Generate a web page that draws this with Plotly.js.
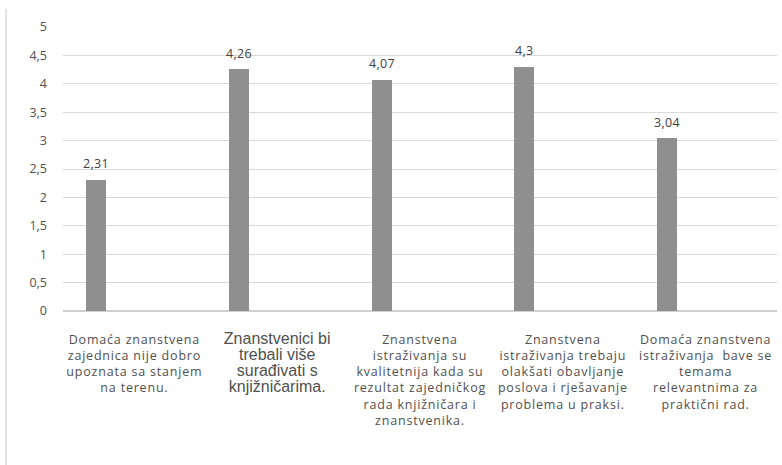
<!DOCTYPE html>
<html>
<head>
<meta charset="utf-8">
<script src="https://cdn.plot.ly/plotly-3.0.1.min.js"></script>
<style>
  html, body { margin: 0; padding: 0; background: #fff; }
  #chart { width: 782px; height: 465px; }
</style>
</head>
<body>
<div id="chart"></div>
<script>
const categories = [
  'Domaća znanstvena<br>zajednica nije dobro<br>upoznata sa stanjem<br>na terenu.',
  'Znanstvenici bi<br>trebali više<br>surađivati s<br>knjižničarima.',
  'Znanstvena<br>istraživanja su<br>kvalitetnija kada su<br>rezultat zajedničkog<br>rada knjižničara i<br>znanstvenika.',
  'Znanstvena<br>istraživanja trebaju<br>olakšati obavljanje<br>poslova i rješavanje<br>problema u praksi.',
  'Domaća znanstvena<br>istraživanja&nbsp; bave se<br>temama<br>relevantnima za<br>praktični rad.'
];
const values = [2.31, 4.26, 4.07, 4.3, 3.04];
const yTicks = [0, 0.5, 1, 1.5, 2, 2.5, 3, 3.5, 4, 4.5, 5];

const xIdx = categories.map((c, i) => i);
const labelText = values.map(v => String(v).replace('.', ','));

// the second category label is set in an Arial-like face in the original
const tickText = categories.map((c, i) => i === 1
  ? '<span style="font-family:\'Liberation Sans\',Arial;font-size:16px">' + c + '</span>'
  : '<span style="letter-spacing:0.8px">' + c + '</span>');

const FONT = 'Open Sans, sans-serif';

const trace = {
  type: 'bar',
  x: xIdx,
  y: values,
  width: 0.14,
  offset: -0.339,
  marker: { color: '#8f8f8f', line: { width: 0 } },
  hoverinfo: 'none'
};

const annotations = values.map((v, i) => ({
  x: i, y: v, xref: 'x', yref: 'y',
  text: '<span style="letter-spacing:0.3px">' + labelText[i] + '</span>',
  showarrow: false,
  xshift: -38.4,
  yshift: 16,
  font: { family: FONT, size: 12.5, color: '#404040' }
}));

const layout = {
  width: 782, height: 465,
  margin: { l: 63, r: 5, t: 27, b: 154 },
  paper_bgcolor: '#ffffff',
  plot_bgcolor: '#ffffff',
  separators: ', ',
  showlegend: false,
  bargap: 0,
  xaxis: {
    range: [-0.5, 4.5],
    tickmode: 'array',
    tickvals: xIdx,
    ticktext: tickText,
    showgrid: false,
    zeroline: false,
    showline: false,
    ticks: '',
    tickangle: 0,
    ticklabelstandoff: 19,
    tickfont: { family: FONT, size: 12.5, color: '#505050' },
    fixedrange: true
  },
  yaxis: {
    range: [0, 5],
    tickmode: 'array',
    tickvals: yTicks,
    ticktext: yTicks.map(t => String(t).replace('.', ',')),
    showgrid: true,
    gridcolor: '#d9d9d9',
    gridwidth: 1,
    zeroline: true,
    zerolinecolor: '#d0d0d0',
    zerolinewidth: 1.5,
    showline: false,
    ticks: '',
    ticklabelstandoff: 15,
    tickfont: { family: FONT, size: 12.5, color: '#505050' },
    fixedrange: true
  },
  annotations: annotations,
  shapes: [{
    type: 'line', xref: 'paper', yref: 'paper',
    x0: (6 - 63) / 714, x1: (6 - 63) / 714,
    y0: (311 - 9) / 284, y1: (311 - 470) / 284,
    line: { color: '#d9d9d9', width: 1.5 }
  }]
};

Plotly.newPlot('chart', [trace], layout, { displayModeBar: false, staticPlot: true });
</script>
</body>
</html>
